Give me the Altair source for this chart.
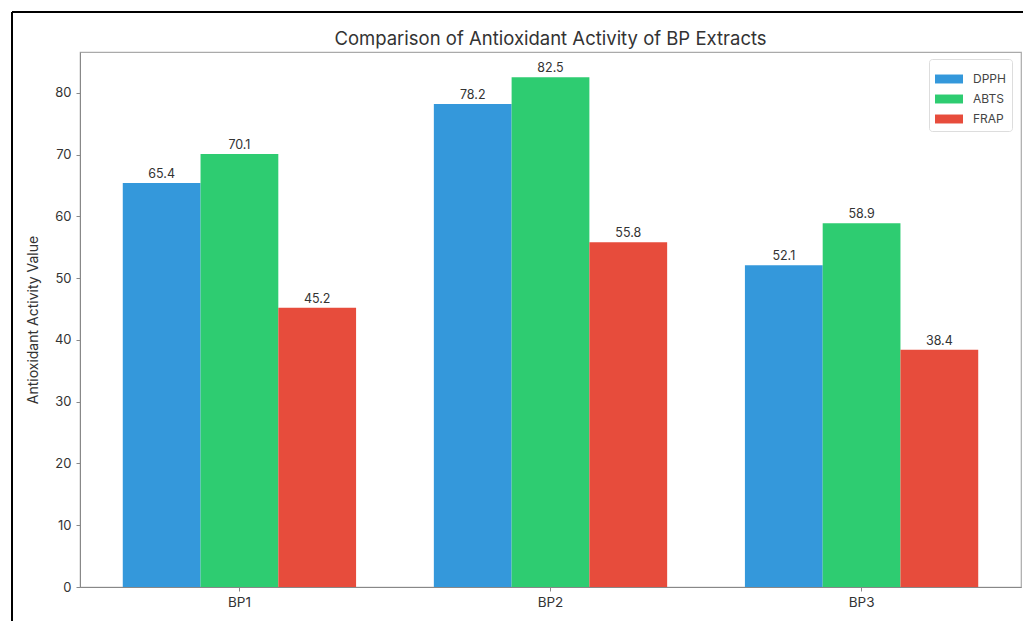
import altair as alt
import pandas as pd

# Extract groups and assay results
categories = ["BP1", "BP2", "BP3"]
assays = ["DPPH", "ABTS", "FRAP"]
dpph = [65.4, 78.2, 52.1]
abts = [70.1, 82.5, 58.9]
frap = [45.2, 55.8, 38.4]
colors = ["#3498db", "#2ecc71", "#e74c3c"]
y_ticks = [0, 10, 20, 30, 40, 50, 60, 70, 80]

rows = []
for assay, series in zip(assays, [dpph, abts, frap]):
    for cat, val in zip(categories, series):
        rows.append({"Extract": cat, "Assay": assay, "Value": val})
df = pd.DataFrame(rows)

FONT = "Inter"
W, H = 941, 535

x_enc = alt.X(
    "Extract:N",
    sort=categories,
    scale=alt.Scale(paddingInner=0.25, paddingOuter=0.1375),
    axis=alt.Axis(title=None, labelAngle=0, labelFontSize=13.5, labelColor="#333",
                  tickSize=4, tickColor="#888", domainColor="#888", labelPadding=4),
)
xoff = alt.XOffset("Assay:N", sort=assays, scale=alt.Scale(paddingInner=0, paddingOuter=0))
y_enc = alt.Y(
    "Value:Q",
    scale=alt.Scale(domain=[0, 86.6], nice=False),
    axis=alt.Axis(title="Antioxidant Activity Value", values=y_ticks, grid=False,
                  labelFontSize=13, labelColor="#333", tickSize=4, tickColor="#888",
                  domainColor="#888", titleFontSize=14, titleFontWeight="normal",
                  titleColor="#333", titlePadding=14, labelPadding=5),
)

bars = alt.Chart(df).mark_bar().encode(
    x=x_enc,
    xOffset=xoff,
    y=y_enc,
    color=alt.Color(
        "Assay:N",
        sort=assays,
        scale=alt.Scale(domain=assays, range=colors),
        legend=alt.Legend(
            title=None, orient="none", legendX=849, legendY=7,
            symbolType="M-1,-0.32H1V0.32H-1Z", symbolSize=784,
            symbolStrokeWidth=0, labelFontSize=12, labelColor="#444",
            padding=6, rowPadding=0, strokeColor="#ddd", cornerRadius=3,
            fillColor="white", labelOffset=10,
        ),
    ),
)

labels = alt.Chart(df).mark_text(
    baseline="alphabetic", dy=-5, fontSize=12.5, color="#333", font=FONT
).encode(
    x=alt.X("Extract:N", sort=categories),
    xOffset=alt.XOffset("Assay:N", sort=assays),
    y="Value:Q",
    text=alt.Text("Value:Q", format=".1f"),
)

# outer frame of the figure
frame_src = alt.Data(values=[{"k": 0}])
frame_left = alt.Chart(frame_src).mark_rule(color="black", strokeWidth=2).encode(
    x=alt.value(-68), y=alt.value(-40), y2=alt.value(H + 40)
)
frame_top = alt.Chart(frame_src).mark_rule(color="black", strokeWidth=2).encode(
    x=alt.value(-68), x2=alt.value(W + 10), y=alt.value(-40)
)

chart = alt.layer(bars, labels, frame_left, frame_top).properties(
    width=W,
    height=H,
    title=alt.Title("Comparison of Antioxidant Activity of BP Extracts",
                    fontSize=18.5, fontWeight="normal", color="#333", font=FONT, offset=-37),
    autosize=alt.AutoSizeParams(type="none"),
    padding={"left": 80, "top": 52, "right": 2, "bottom": 34},
).configure(
    font=FONT,
).configure_view(
    stroke="#aaa", strokeWidth=1.2
)

chart.save("out.html", embed_options={"renderer": "svg", "actions": False})
